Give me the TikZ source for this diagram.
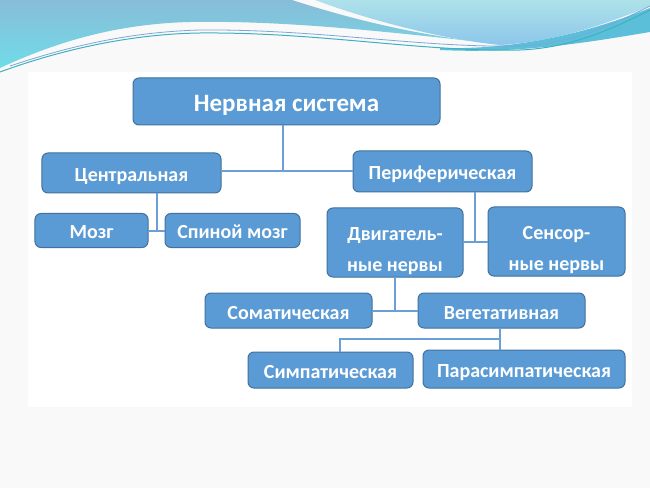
\documentclass[tikz,border=0pt]{standalone}
\usepackage{fontspec}
\setmainfont{Carlito}
\definecolor{boxfill}{HTML}{5B9BD5}
\definecolor{boxline}{HTML}{41719C}
\definecolor{conn}{HTML}{6A9FD8}
\definecolor{pagebg}{HTML}{F9F9F9}
\definecolor{waveAtop}{HTML}{88BCD8}
\definecolor{waveAbot}{HTML}{70DCE8}
\definecolor{waveBtop}{HTML}{AEE2EA}
\definecolor{waveBbot}{HTML}{8CC6EA}
\definecolor{waveteal}{HTML}{5BBFD9}
\definecolor{thinteal}{HTML}{3FB0C0}
\definecolor{thinblue}{HTML}{7AA8D8}
\begin{document}
\begin{tikzpicture}[x=1bp,y=-1bp,
  box/.style={draw=boxline, line width=1bp, fill=boxfill, rounded corners=6bp,
    text=white, font=\bfseries\fontsize{20bp}{31bp}\selectfont, align=center,
    inner sep=0pt, anchor=center, text height=17bp, text depth=0bp},
  twoline/.style={box, text height=, text depth=},
  titlebox/.style={box, font=\bfseries\fontsize{25bp}{30bp}\selectfont, text height=21bp},
  link/.style={draw=conn, line width=1.6bp}]
\useasboundingbox (0,0) rectangle (650,488);
% background
\fill[pagebg] (0,0) rectangle (650,488);
\fill[white] (28,72) rectangle (632,407);
% header waves
\shade[top color=waveAtop, bottom color=waveAbot]
  (0,0) -- (292,0) .. controls (360,22) and (430,38) .. (510,45)
  .. controls (420,36) and (300,20) .. (190,22)
  .. controls (110,24) and (50,45) .. (0,68) -- cycle;
\shade[top color=waveBtop, bottom color=waveBbot]
  (315,0) -- (650,0) -- (650,6) .. controls (600,27) and (550,42) .. (500,45)
  .. controls (450,40) and (380,24) .. (315,0) -- cycle;
\fill[waveteal] (440,48) .. controls (520,50) and (590,32) .. (650,8)
  -- (650,32) .. controls (590,42) and (520,54) .. (440,50) -- cycle;
\draw[thinteal, line width=1bp] (0,72) .. controls (60,50) and (130,34) .. (200,33)
  .. controls (320,32) and (420,52) .. (520,50) .. controls (570,48) and (610,30) .. (650,10);
\draw[thinblue, line width=0.8bp] (10,66) .. controls (70,46) and (130,32) .. (200,30)
  .. controls (320,29) and (420,48) .. (520,46) .. controls (570,44) and (610,26) .. (650,6);
% boxes
\node[titlebox, minimum width=307bp, minimum height=47bp] (ns) at (286.5,101.5) {Нервная система};
\node[box, minimum width=179bp, minimum height=40bp] (cen) at (131.5,173) {Центральная};
\node[box, minimum width=179bp, minimum height=41bp] (per) at (442.5,171.5) {Периферическая};
\node[box, minimum width=113bp, minimum height=34bp] (mozg) at (91.5,230.5) {Мозг};
\node[box, minimum width=135bp, minimum height=34bp] (spin) at (232.5,230.5) {Спиной мозг};
\node[twoline, minimum width=136bp, minimum height=69bp] (dvig) at (395,242.5) {\rule{0pt}{31bp}Двигатель-\\ные нервы};
\node[twoline, minimum width=137bp, minimum height=69bp] (sens) at (556.5,241.5) {\rule{0pt}{31bp}Сенсор-\\ные нервы};
\node[box, minimum width=167bp, minimum height=35bp] (som) at (288.5,310.5) {Соматическая};
\node[box, minimum width=167bp, minimum height=35bp] (veg) at (501.5,310.5) {Вегетативная};
\node[box, minimum width=165bp, minimum height=36bp] (sym) at (330.5,370) {Симпатическая};
\node[box, minimum width=202bp, minimum height=38bp] (para) at (524,369) {Парасимпатическая};
% connectors
\coordinate (j1) at (283,171);
\draw[link] (ns.south -| j1) -- (j1);
\draw[link] (cen.east |- j1) -- (per.west |- j1);
\coordinate (j2) at (157,231);
\draw[link] (cen.south -| j2) -- (j2);
\draw[link] (mozg.east |- j2) -- (spin.west |- j2);
\coordinate (j3) at (475,242);
\draw[link] (per.south -| j3) -- (j3);
\draw[link] (dvig.east |- j3) -- (sens.west |- j3);
\coordinate (j4) at (395,311);
\draw[link] (dvig.south -| j4) -- (j4);
\draw[link] (som.east |- j4) -- (veg.west |- j4);
\coordinate (j5) at (500,339);
\coordinate (j6) at (340,339);
\draw[link] (veg.south -| j5) -- (para.north -| j5);
\draw[link] (j5) -- (j6) -- (sym.north -| j6);
\end{tikzpicture}
\end{document}
